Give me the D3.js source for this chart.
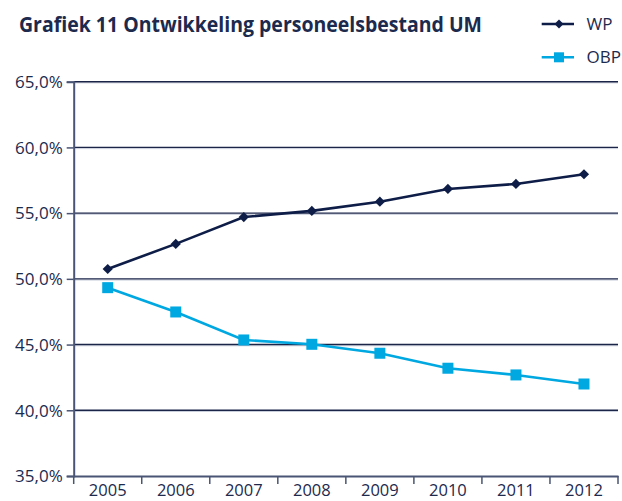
<!DOCTYPE html>
<html>
<head>
<meta charset="utf-8">
<script src="https://cdn.jsdelivr.net/npm/d3@7"></script>
<style>
  html, body { margin: 0; padding: 0; background: #fff; }
  svg { display: block; font-family: "Open Sans", "Noto Sans", sans-serif; }
</style>
</head>
<body>
<svg id="chart" width="622" height="501"></svg>
<script>
const years = ["2005", "2006", "2007", "2008", "2009", "2010", "2011", "2012"];
const wpValues = [50.75, 52.66, 54.7, 55.17, 55.87, 56.84, 57.22, 57.96];
const obpValues = [49.33, 47.48, 45.35, 45.02, 44.34, 43.2, 42.69, 42.0];
const yTicks = [35, 40, 45, 50, 55, 60, 65];
const seriesNames = ["WP", "OBP"];
const titleText = "Grafiek 11 Ontwikkeling personeelsbestand UM";

(function () {
const navy = "#0e1d47";
const blue = "#00a8e1";
const axisCol = "#4a5575";
const textCol = "#1c2a4e";

const svg = d3.select("#chart");
const mLeft = 73.7, mRight = 618, mTop = 81.7, mBottom = 476;

const x = d3.scaleBand().domain(years).range([mLeft, mRight]).padding(0);
const y = d3.scaleLinear().domain([35, 65]).range([mBottom, mTop]);
const fmt = v => d3.format(".1f")(v).replace(".", ",") + "%";

// Title
const title = svg.append("text")
  .attr("x", 19).attr("y", 32.3)
  .attr("fill", textCol)
  .attr("font-weight", "bold")
  .attr("font-size", 21)
  .text(titleText);
const tw = title.node().getComputedTextLength();
if (tw > 0) title.attr("textLength", 463).attr("lengthAdjust", "spacingAndGlyphs");

// Gridlines
const grid = svg.append("g");
yTicks.filter(t => t > 35).forEach(t => {
  grid.append("line")
    .attr("x1", mLeft).attr("x2", mRight)
    .attr("y1", y(t) + 1.2).attr("y2", y(t) + 1.2)
    .attr("stroke", "#c9cedb").attr("stroke-width", 1);
  grid.append("line")
    .attr("x1", mLeft).attr("x2", mRight)
    .attr("y1", y(t)).attr("y2", y(t))
    .attr("stroke", "#1a2548").attr("stroke-width", 1.4);
});

// Y axis
const yAxis = d3.axisLeft(y).tickValues(yTicks).tickSize(7).tickPadding(4).tickFormat(fmt);
const gy = svg.append("g").attr("transform", `translate(${mLeft},0)`).call(yAxis);
gy.select(".domain").attr("stroke", axisCol).attr("stroke-width", 2);
gy.selectAll(".tick line").attr("stroke", axisCol).attr("stroke-width", 1.5);
gy.selectAll(".tick text").attr("fill", textCol).attr("font-size", 17)
  .attr("font-family", "'Open Sans', sans-serif").attr("dy", "0.34em");

// X axis
const xAxis = d3.axisBottom(x).tickSize(0).tickPadding(0);
const gx = svg.append("g").attr("transform", `translate(0,${mBottom})`).call(xAxis);
gx.select(".domain").attr("stroke", axisCol).attr("stroke-width", 2);
gx.selectAll(".tick text").attr("fill", textCol).attr("font-size", 16.5)
  .attr("font-family", "'Open Sans', sans-serif").attr("dy", 0).attr("y", 20);
const bounds = years.map(d => x(d)).concat([x(years[years.length - 1]) + x.bandwidth()]);
gx.selectAll(".bound").data(bounds).enter().append("line")
  .attr("x1", d => d).attr("x2", d => d).attr("y1", 0).attr("y2", 8)
  .attr("stroke", axisCol).attr("stroke-width", 1.5);

const cx = d => x(d) + x.bandwidth() / 2;
const line = d3.line().x(d => cx(d.year)).y(d => y(d.v));

const wpData = years.map((yr, i) => ({ year: yr, v: wpValues[i] }));
const obpData = years.map((yr, i) => ({ year: yr, v: obpValues[i] }));

// OBP
svg.append("path").datum(obpData).attr("d", line)
  .attr("fill", "none").attr("stroke", blue).attr("stroke-width", 2.6);
svg.selectAll(".obp").data(obpData).enter().append("rect")
  .attr("x", d => cx(d.year) - 5.5).attr("y", d => y(d.v) - 5.5)
  .attr("width", 11).attr("height", 11).attr("fill", blue);

// WP
svg.append("path").datum(wpData).attr("d", line)
  .attr("fill", "none").attr("stroke", navy).attr("stroke-width", 2.6);
svg.selectAll(".wp").data(wpData).enter().append("path")
  .attr("transform", d => `translate(${cx(d.year)},${y(d.v)}) rotate(45)`)
  .attr("d", d3.symbol().type(d3.symbolSquare).size(52)())
  .attr("fill", navy);

// Legend
const legend = svg.append("g");
const legY = [24, 57.3];
const legCol = [navy, blue];
seriesNames.forEach((name, i) => {
  legend.append("line")
    .attr("x1", 541.7).attr("x2", 574).attr("y1", legY[i]).attr("y2", legY[i])
    .attr("stroke", legCol[i]).attr("stroke-width", 2.6);
  if (i === 0) {
    legend.append("path")
      .attr("transform", `translate(559,${legY[i]}) rotate(45)`)
      .attr("d", d3.symbol().type(d3.symbolSquare).size(40)())
      .attr("fill", legCol[i]);
  } else {
    legend.append("rect")
      .attr("x", 559 - 5).attr("y", legY[i] - 5).attr("width", 10).attr("height", 10)
      .attr("fill", legCol[i]);
  }
  legend.append("text")
    .attr("x", 586.5).attr("y", legY[i]).attr("dy", "0.36em")
    .attr("fill", textCol).attr("font-size", 17).text(name);
});
})();
</script>
</body>
</html>
